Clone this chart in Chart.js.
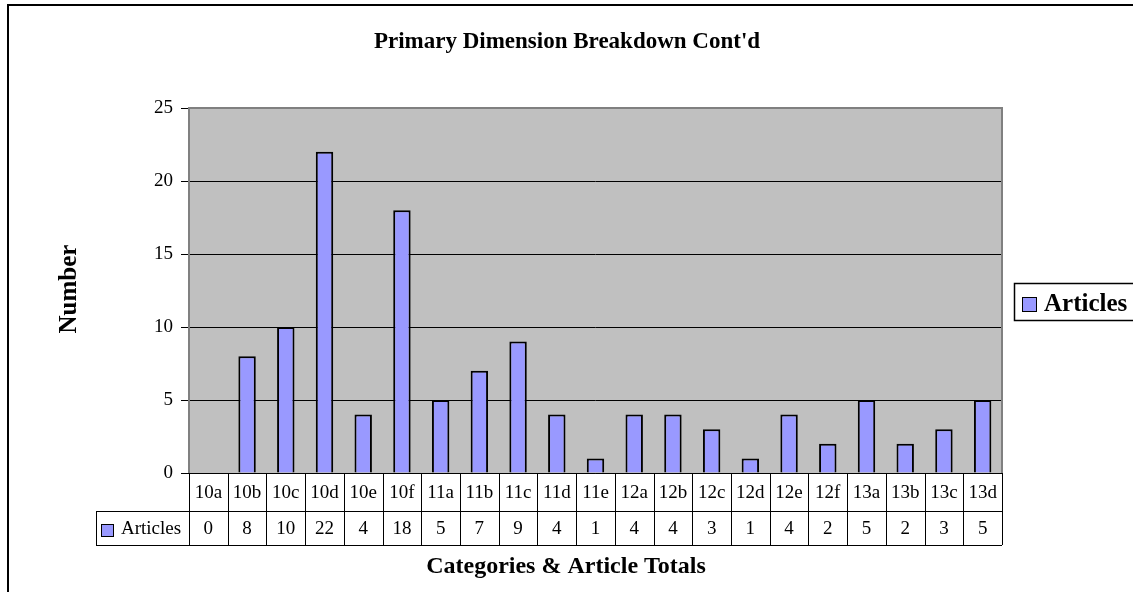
<!DOCTYPE html>
<html>
<head>
<meta charset="utf-8">
<title>Primary Dimension Breakdown Cont'd</title>
<script src="https://cdn.jsdelivr.net/npm/chart.js@4/dist/chart.umd.min.js"></script>
<style>
  html, body { margin: 0; padding: 0; background: #fff; }
  #wrap { width: 1133px; height: 592px; }
</style>
</head>
<body>
<div id="wrap"><canvas id="myChart" width="1133" height="592"></canvas></div>
<script>
// dados do gráfico
const categories = ['10a', '10b', '10c', '10d', '10e', '10f', '11a', '11b', '11c', '11d', '11e',
                    '12a', '12b', '12c', '12d', '12e', '12f', '13a', '13b', '13c', '13d'];
const articles = [0, 8, 10, 22, 4, 18, 5, 7, 9, 4, 1, 4, 4, 3, 1, 4, 2, 5, 2, 3, 5];
const yTicks = [0, 5, 10, 15, 20, 25];
const seriesName = 'Articles';

const chartTitle = "Primary Dimension Breakdown Cont'd";
const xTitle = 'Categories & Article Totals';
const yTitle = 'Number';

const SERIF = '"Liberation Serif", "Times New Roman", serif';
const BAR_COLOR = '#9999FF';

// fundo cinza, moldura, tabela de dados e legenda
const excelLook = {
    id: 'excelLook',
    beforeDraw(chart) {
        const { ctx, chartArea: a } = chart;
        ctx.save();
        ctx.fillStyle = '#fff';
        ctx.fillRect(0, 0, chart.width, chart.height);
        ctx.fillStyle = '#C0C0C0';
        ctx.fillRect(a.left, a.top, a.right - a.left, a.bottom - a.top);
        ctx.restore();
    },
    afterDraw(chart) {
        const { ctx, chartArea: a } = chart;
        const xs = chart.scales.x;
        const step = (a.right - a.left) / categories.length;
        const row1 = a.bottom + 38;
        const row2 = row1 + 34;
        const headLeft = 96;

        ctx.save();
        // moldura externa
        ctx.strokeStyle = '#000';
        ctx.lineWidth = 2;
        ctx.beginPath();
        ctx.moveTo(8, chart.height);
        ctx.lineTo(8, 5);
        ctx.lineTo(chart.width, 5);
        ctx.stroke();

        // borda da área do gráfico
        ctx.strokeStyle = '#808080';
        ctx.lineWidth = 2;
        ctx.beginPath();
        ctx.moveTo(a.left, a.bottom);
        ctx.lineTo(a.left, a.top);
        ctx.lineTo(a.right, a.top);
        ctx.lineTo(a.right, a.bottom);
        ctx.stroke();

        // tabela de dados
        ctx.strokeStyle = '#000';
        ctx.lineWidth = 1;
        ctx.beginPath();
        ctx.moveTo(a.left, a.bottom + 0.5);
        ctx.lineTo(a.right, a.bottom + 0.5);
        ctx.moveTo(headLeft, row1 + 0.5);
        ctx.lineTo(a.right, row1 + 0.5);
        ctx.moveTo(headLeft, row2 + 0.5);
        ctx.lineTo(a.right, row2 + 0.5);
        ctx.moveTo(headLeft + 0.5, row1);
        ctx.lineTo(headLeft + 0.5, row2);
        for (let i = 0; i <= categories.length; i++) {
            const x = Math.round(xs.getPixelForValue(i) - step / 2) + 0.5;
            ctx.moveTo(x, a.bottom);
            ctx.lineTo(x, row2);
        }
        ctx.stroke();

        ctx.fillStyle = '#000';
        ctx.font = '19px ' + SERIF;
        ctx.textAlign = 'center';
        ctx.textBaseline = 'middle';
        categories.forEach((c, i) => {
            const x = xs.getPixelForValue(i);
            ctx.fillText(c, x, (a.bottom + row1) / 2 + 1);
            ctx.fillText(String(articles[i]), x, (row1 + row2) / 2 + 1);
        });

        // cabeçalho da linha
        ctx.fillStyle = BAR_COLOR;
        ctx.fillRect(101.5, 524.5, 12, 12);
        ctx.strokeRect(101.5, 524.5, 12, 12);
        ctx.fillStyle = '#000';
        ctx.textAlign = 'left';
        ctx.fillText(seriesName, 121, (row1 + row2) / 2 + 1);

        // legenda
        ctx.strokeStyle = '#000';
        ctx.lineWidth = 1.5;
        ctx.strokeRect(1014.5, 283.5, 130, 37);
        ctx.lineWidth = 1;
        ctx.fillStyle = BAR_COLOR;
        ctx.fillRect(1022.5, 297.5, 14, 14);
        ctx.strokeRect(1022.5, 297.5, 14, 14);
        ctx.fillStyle = '#000';
        ctx.font = 'bold 25px ' + SERIF;
        ctx.fillText(seriesName, 1044, 305);

        // títulos
        ctx.textAlign = 'center';
        ctx.font = 'bold 23px ' + SERIF;
        ctx.fillText(chartTitle, 567, 42);
        ctx.font = 'bold 24px ' + SERIF;
        ctx.fillText(xTitle, 566, 567);
        ctx.translate(70, 289);
        ctx.rotate(-Math.PI / 2);
        ctx.font = 'bold 25px ' + SERIF;
        ctx.fillText(yTitle, 0, 0);
        ctx.restore();
    }
};

const ctx = document.getElementById('myChart').getContext('2d');
new Chart(ctx, {
    type: 'bar',
    data: {
        labels: categories,
        datasets: [{
            label: seriesName,
            data: articles,
            backgroundColor: BAR_COLOR,
            borderColor: '#000',
            borderWidth: 2,
            barPercentage: 0.45,
            categoryPercentage: 1
        }]
    },
    options: {
        responsive: false,
        animation: false,
        layout: { padding: { left: 8, right: 131, top: 108, bottom: 119 } },
        plugins: {
            legend: { display: false },
            title: { display: false },
            tooltip: { enabled: false }
        },
        scales: {
            x: {
                display: false,
                offset: true
            },
            y: {
                min: 0,
                max: 25,
                afterBuildTicks: s => { s.ticks = yTicks.map(v => ({ value: v })); },
                afterFit: s => { s.width = 181; },
                border: { display: false },
                grid: {
                    color: '#000',
                    lineWidth: 1,
                    tickLength: 8,
                    tickColor: '#000'
                },
                ticks: {
                    color: '#000',
                    padding: 8,
                    font: { family: SERIF, size: 19 }
                }
            }
        }
    },
    plugins: [excelLook]
});
</script>
</body>
</html>
